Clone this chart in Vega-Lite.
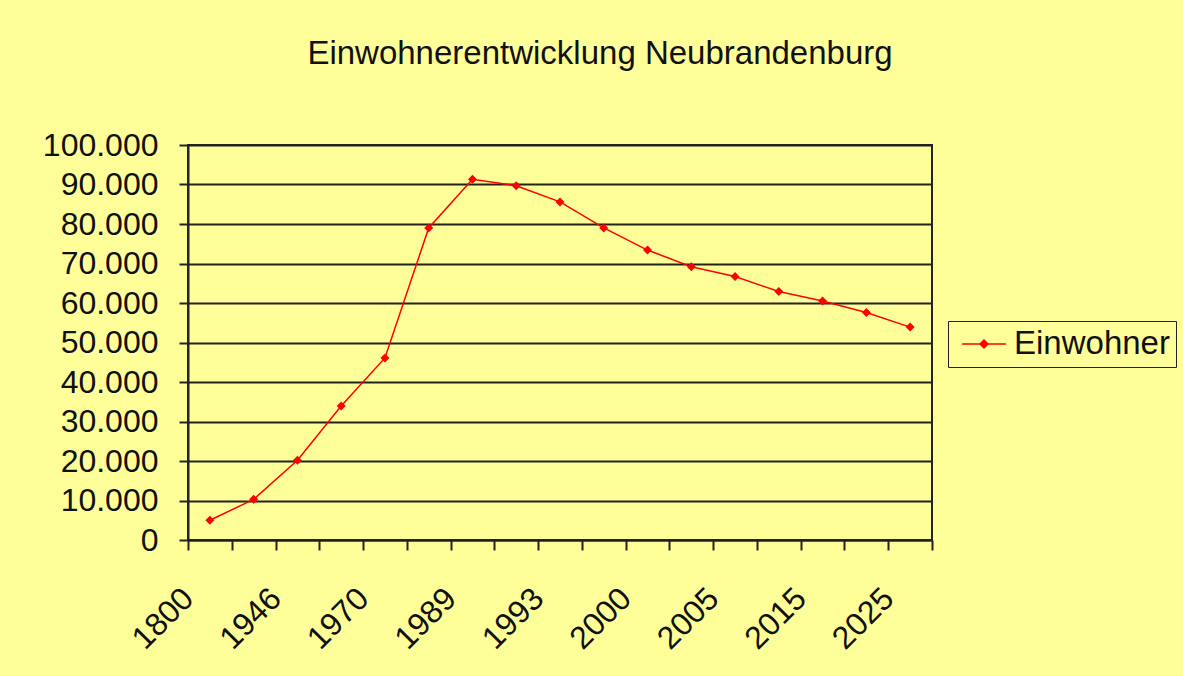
{
  "$schema": "https://vega.github.io/schema/vega-lite/v6.json",
  "width": 744,
  "height": 395,
  "autosize": {"type": "none"},
  "padding": {"left": 188, "top": 145, "right": 251, "bottom": 136},
  "background": "#FFFF99",
  "title": {
    "text": "Einwohnerentwicklung Neubrandenburg",
    "font": "Liberation Sans",
    "fontSize": 33,
    "fontWeight": "normal",
    "color": "#111111",
    "anchor": "middle",
    "dx": 40,
    "offset": 58
  },
  "data": {
    "values": [
      {"Jahr": "1800", "Einwohner": 5000},
      {"Jahr": "1900", "Einwohner": 10300},
      {"Jahr": "1946", "Einwohner": 20200},
      {"Jahr": "1960", "Einwohner": 33900},
      {"Jahr": "1970", "Einwohner": 46100},
      {"Jahr": "1980", "Einwohner": 79000},
      {"Jahr": "1989", "Einwohner": 91300},
      {"Jahr": "1990", "Einwohner": 89700},
      {"Jahr": "1993", "Einwohner": 85600},
      {"Jahr": "1995", "Einwohner": 79000},
      {"Jahr": "2000", "Einwohner": 73400},
      {"Jahr": "2002", "Einwohner": 69200},
      {"Jahr": "2005", "Einwohner": 66700},
      {"Jahr": "2010", "Einwohner": 62900},
      {"Jahr": "2015", "Einwohner": 60500},
      {"Jahr": "2020", "Einwohner": 57600},
      {"Jahr": "2025", "Einwohner": 53900}
    ]
  },
  "mark": {
    "type": "line",
    "strokeWidth": 1.5,
    "point": {"shape": "diamond", "size": 81, "filled": true, "color": "#ff0000", "opacity": 1}
  },
  "encoding": {
    "x": {
      "field": "Jahr",
      "type": "ordinal",
      "sort": null,
      "bandPosition": 0.5,
      "scale": {"type": "band", "paddingInner": 0, "paddingOuter": 0},
      "axis": {
        "title": null,
        "tickBand": "extent",
        "labelAngle": -45,
        "labelAlign": "right",
        "labelBaseline": "middle",
        "labelFont": "Liberation Sans",
        "labelFontSize": 32,
        "labelColor": "#111111",
        "labelPadding": 43,
        "labelOffset": -22,
        "labelOverlap": false,
        "labelExpr": "indexof(['1800','1946','1970','1989','1993','2000','2005','2015','2025'], datum.label) >= 0 ? datum.label : ''",
        "tickSize": 10,
        "tickColor": "#222222",
        "tickWidth": 2,
        "domainColor": "#222222",
        "domainWidth": 2,
        "grid": false
      }
    },
    "y": {
      "field": "Einwohner",
      "type": "quantitative",
      "scale": {"domain": [0, 100000], "nice": false},
      "axis": {
        "title": null,
        "values": [0, 10000, 20000, 30000, 40000, 50000, 60000, 70000, 80000, 90000, 100000],
        "labelExpr": "replace(format(datum.value, ','), ',', '.')",
        "labelFont": "Liberation Sans",
        "labelFontSize": 32,
        "labelColor": "#111111",
        "labelPadding": 21,
        "tickSize": 9,
        "tickColor": "#222222",
        "tickWidth": 2,
        "domainColor": "#222222",
        "domainWidth": 2,
        "grid": true,
        "gridColor": "#222222",
        "gridWidth": 2,
        "gridOpacity": 1
      }
    },
    "color": {
      "datum": "Einwohner",
      "type": "nominal",
      "scale": {"range": ["#ff0000"]},
      "legend": {
        "title": null,
        "orient": "none",
        "legendX": 760,
        "legendY": 176,
        "strokeColor": "#222222",
        "fillColor": "#FFFF99",
        "padding": 6,
        "labelFont": "Liberation Sans",
        "labelFontSize": 33,
        "labelColor": "#111111",
        "labelOffset": 26,
        "symbolSize": 1024,
        "symbolType": "M-0.5625,0L2.1875,0M0.5625,0L0.8125,-0.25L1.0625,0L0.8125,0.25Z",
        "symbolStrokeWidth": 1.5,
        "symbolStrokeColor": "#ff0000",
        "symbolFillColor": "#ff0000",
        "encode": {"symbols": {"update": {"fill": {"value": "#ff0000"}, "stroke": {"value": "#ff0000"}, "strokeWidth": {"value": 1.5}}}}
      }
    }
  },
  "config": {
    "view": {"stroke": "#222222", "strokeWidth": 2}
  }
}
